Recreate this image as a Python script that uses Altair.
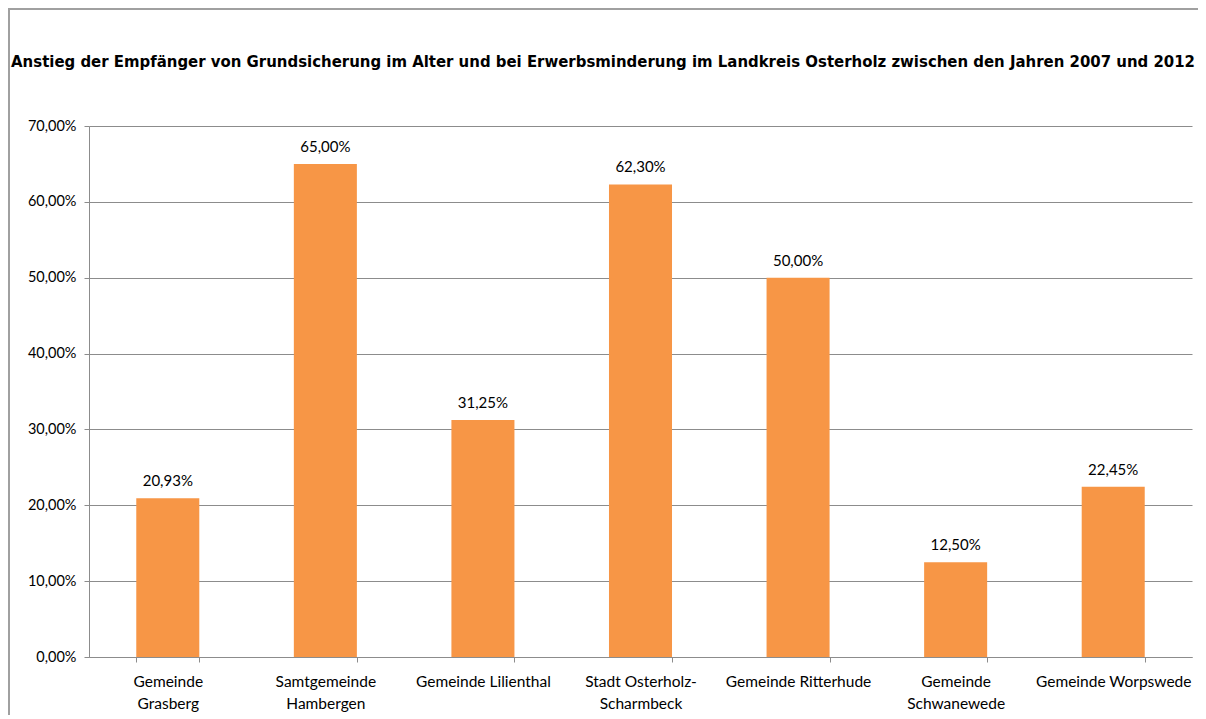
import altair as alt
import pandas as pd

categories = [
    "Gemeinde|Grasberg",
    "Samtgemeinde|Hambergen",
    "Gemeinde Lilienthal",
    "Stadt Osterholz-|Scharmbeck",
    "Gemeinde Ritterhude",
    "Gemeinde|Schwanewede",
    "Gemeinde Worpswede",
]
values = [20.93, 65.00, 31.25, 62.30, 50.00, 12.50, 22.45]
y_ticks = [0, 10, 20, 30, 40, 50, 60, 70]

title_text = ("Anstieg der Empfänger von Grundsicherung im Alter und bei Erwerbsminderung "
              "im Landkreis Osterholz zwischen den Jahren 2007 und 2012")

df = pd.DataFrame({"cat": categories, "val": values})

W, H = 1103, 531
LABEL_FONT = "Lato"
GRID = "#8c8c8c"
ORANGE = "#F79646"

base = alt.Chart(df)

x_enc = alt.X(
    "cat:N", sort=categories, title=None,
    scale=alt.Scale(paddingInner=0.6, paddingOuter=0.3),
    axis=alt.Axis(
        labelExpr="split(datum.label, '|')", labelAngle=0,
        labelFont=LABEL_FONT, labelFontSize=15.5, labelColor="#000000",
        labelPadding=12, labelLineHeight=22, labelBaseline="top",
        tickBand="extent", tickSize=5, tickColor=GRID, domainColor=GRID,
        grid=False, labelLimit=220,
    ),
)
y_enc = alt.Y(
    "val:Q", title=None,
    scale=alt.Scale(domain=[0, 70], nice=False),
    axis=alt.Axis(
        values=y_ticks,
        labelExpr="replace(format(datum.value, '.2f'), '.', ',') + '%'",
        labelFont=LABEL_FONT, labelFontSize=14.5, labelColor="#000000",
        labelPadding=8, tickSize=5, tickColor=GRID, domainColor=GRID,
        gridColor=GRID, gridOpacity=1, grid=True,
    ),
)

bars = base.mark_bar(color=ORANGE).encode(x=x_enc, y=y_enc)

labels = base.transform_calculate(
    lab="replace(format(datum.val, '.2f'), '.', ',') + '%'"
).mark_text(
    baseline="bottom", dy=-9, font=LABEL_FONT, fontSize=15, color="#000000"
).encode(
    x=alt.X("cat:N", sort=categories),
    y=alt.Y("val:Q"),
    text="lab:N",
)

frame = base.mark_rect(filled=False, stroke="#a0a0a0", strokeWidth=1.5).encode(
    x=alt.value(-80), x2=alt.value(W + 40),
    y=alt.value(-117), y2=alt.value(H + 120),
)

title = alt.Chart(pd.DataFrame({"t": [title_text]})).mark_text(
    font="'Liberation Sans Narrow', 'Arial Narrow', 'DejaVu Sans Condensed', Roboto, sans-serif",
    fontSize=16.6, fontWeight="bold",
    color="#000000", align="center", baseline="middle",
).encode(
    x=alt.value(514), y=alt.value(-64), text="t:N",
)

chart = alt.layer(frame, bars, labels, title).properties(
    width=W, height=H,
    autosize=alt.AutoSizeParams(type="none"),
    padding={"left": 81, "top": 118, "right": 6, "bottom": 58},
).configure_view(stroke=None)

chart.save("out.html", embed_options={"renderer": "svg", "actions": False})
